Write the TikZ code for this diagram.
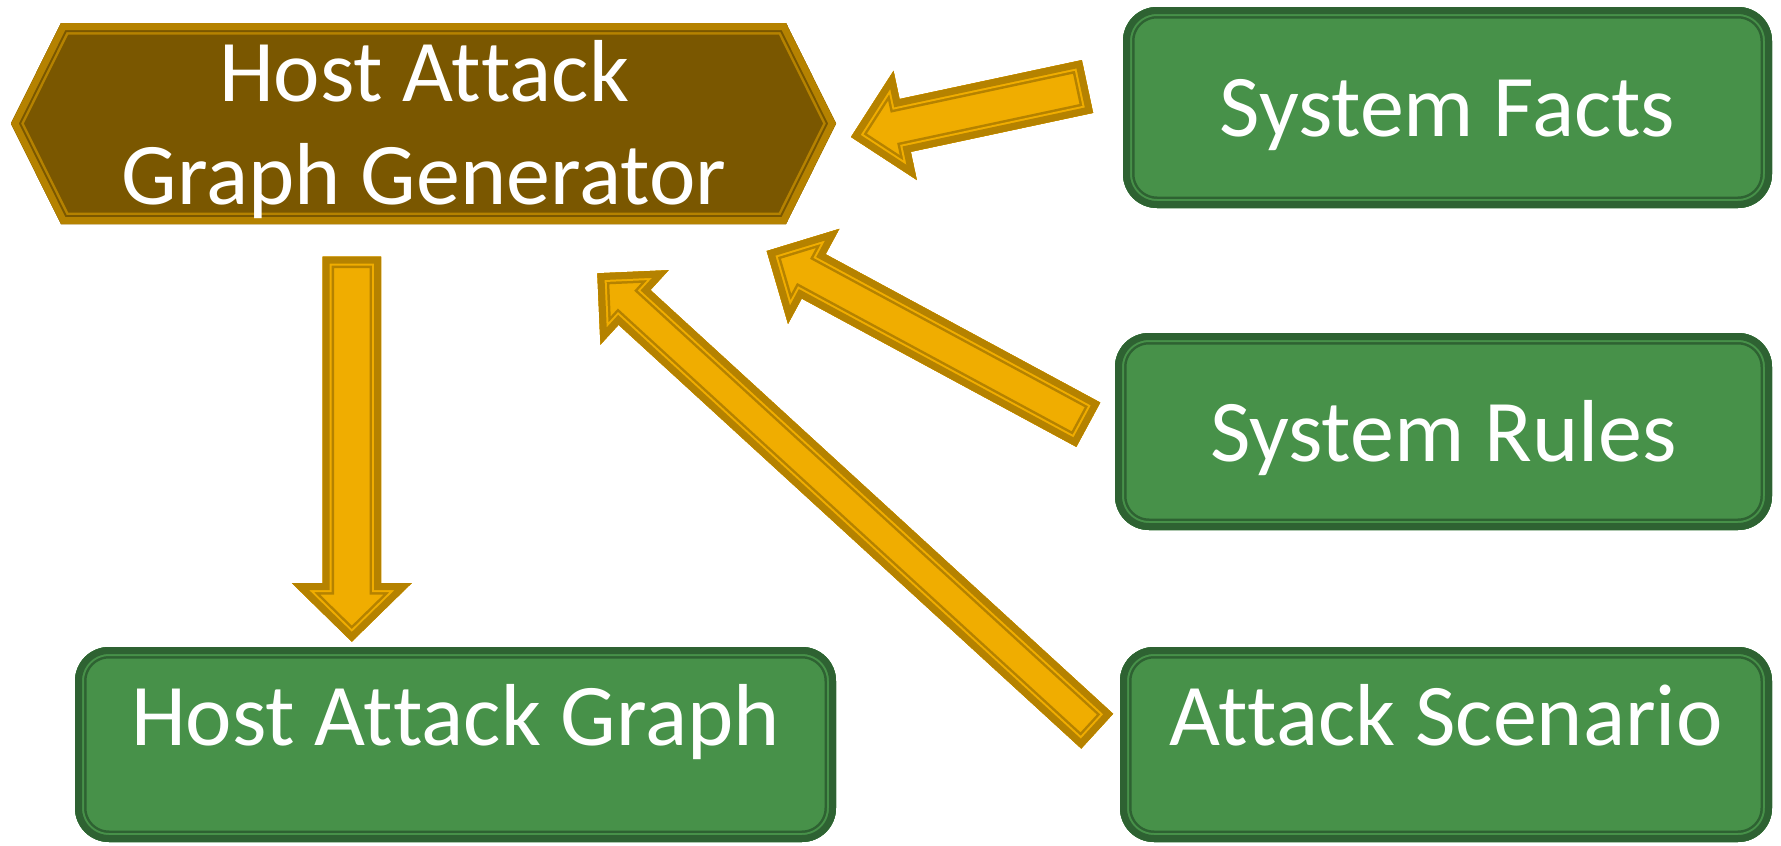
\documentclass[tikz,border=0pt]{standalone}
\usepackage{fontspec}
\setmainfont{Carlito}[Ligatures={NoCommon}]
\usetikzlibrary{calc}
\definecolor{hexfill}{HTML}{7A5700}
\definecolor{gold}{HTML}{B58200}
\definecolor{amber}{HTML}{F0AD00}
\definecolor{gfill}{HTML}{479149}
\definecolor{gline}{HTML}{2E6232}
\newcommand{\tT}{t\kern0pt t}
\newcommand{\triplestroke}[3]{%
  \begin{scope}
    \clip #1;
    \fill[#2] #1;
    \draw[#3, line width=23pt, line join=miter] #1;
    \draw[#2, line width=18pt, line join=miter] #1;
    \draw[#3, line width=14pt, line join=miter] #1;
  \end{scope}}
\newcommand{\blockarrow}[5]{%
  \coordinate (ab) at ($(#2)!#5!(#1)$);
  \coordinate (p1) at ($(#1)!#3!90:(#2)$);
  \coordinate (p2) at ($(ab)!#3!90:(#2)$);
  \coordinate (p3) at ($(ab)!#4!90:(#2)$);
  \coordinate (p5) at ($(ab)!#4!-90:(#2)$);
  \coordinate (p6) at ($(ab)!#3!-90:(#2)$);
  \coordinate (p7) at ($(#1)!#3!-90:(#2)$);
  \triplestroke{(p1)--(p2)--(p3)--(#2)--(p5)--(p6)--(p7)--cycle}{amber}{gold}}
\newcommand{\greenbox}[1]{%
  \triplestroke{[rounded corners=34pt] (#1-nw) rectangle (#1-se)}{gfill}{gline}}
\tikzset{
  boxtext/.style={anchor=base, inner sep=0pt, text=white, font=\fontsize{88}{104}\selectfont},
}
\begin{document}
\begin{tikzpicture}[x=1pt, y=-1pt]
\useasboundingbox (0,0) rectangle (1781,846);

% generator hexagon
\coordinate (g1) at (11,123.5);
\coordinate (g2) at (61,23);
\coordinate (g3) at (786,23);
\coordinate (g4) at (836,123.5);
\coordinate (g5) at (786,224);
\coordinate (g6) at (61,224);
\triplestroke{(g1)--(g2)--(g3)--(g4)--(g5)--(g6)--cycle}{hexfill}{gold}
\node[boxtext] (gen1) at (424,101) {Host A\tT ack};
\node[boxtext] (gen2) at (424,204.5) {Graph Generator};

% green boxes
\coordinate (facts-nw) at (1123,7);   \coordinate (facts-se) at (1772,208);
\coordinate (rules-nw) at (1115,333); \coordinate (rules-se) at (1772,530);
\coordinate (scen-nw) at (1120,647);  \coordinate (scen-se) at (1772,842);
\coordinate (hag-nw) at (75,647);     \coordinate (hag-se) at (836,842);
\greenbox{facts}
\greenbox{rules}
\greenbox{scen}
\greenbox{hag}
\node[boxtext] (facts) at (1447.5,136.3) {System Facts};
\node[boxtext] (rules) at (1443.5,461) {System Rules};
\node[boxtext] (scen) at (1446,745) {A\tT ack Scenario};
\node[boxtext] (hag) at (455.5,745) {Host A\tT ack Graph};

% block arrows
\coordinate (a1tail) at (1087.5,86.5);  \coordinate (a1tip) at (851,137);
\coordinate (a2tail) at (1088.3,424.7); \coordinate (a2tip) at (766.7,251);
\coordinate (a3tail) at (1097.2,731.2); \coordinate (a3tip) at (597.3,273.3);
\coordinate (a4tail) at (351.8,256.7);  \coordinate (a4tip) at (351.8,641.7);
\blockarrow{a1tail}{a1tip}{27pt}{55.8pt}{55.4pt}
\blockarrow{a2tail}{a2tip}{25.2pt}{54pt}{53.4pt}
\blockarrow{a3tail}{a3tip}{23.6pt}{50.5pt}{50.5pt}
\blockarrow{a4tail}{a4tip}{29.2pt}{60pt}{58.7pt}
\end{tikzpicture}
\end{document}
